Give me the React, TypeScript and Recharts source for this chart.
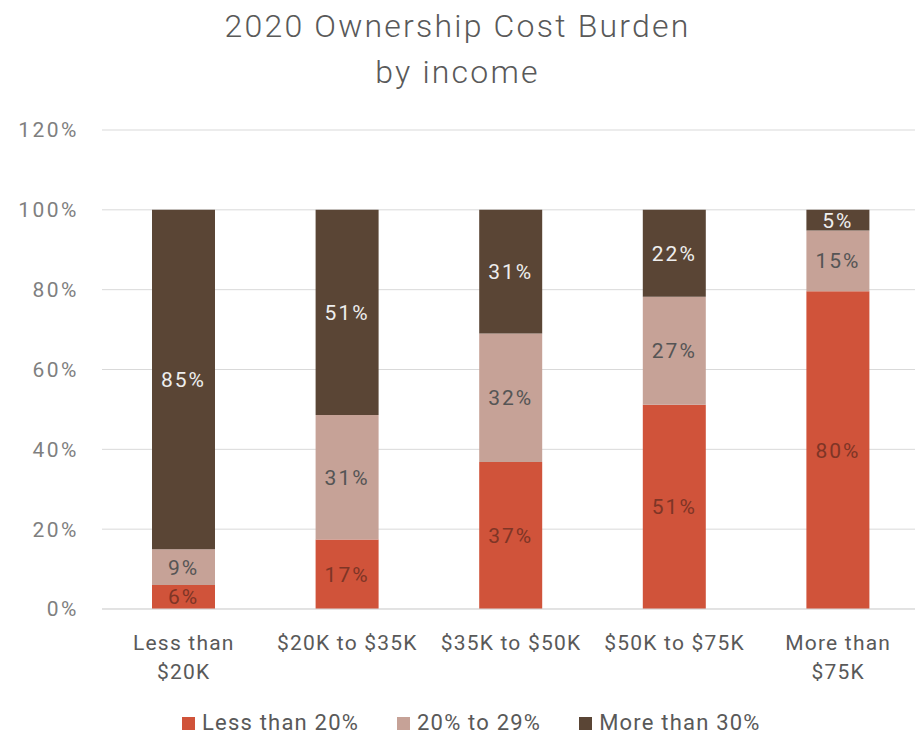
import React from 'react';
import { BarChart, Bar, XAxis, YAxis, CartesianGrid, LabelList, Legend } from 'recharts';

const categories = ['Less than\n$20K', '$20K to $35K', '$35K to $50K', '$50K to $75K', 'More than\n$75K'];
const lessThan20 = [6, 17.4, 36.8, 51.2, 79.6];
const from20to29 = [9, 31.2, 32.2, 27, 15.2];
const moreThan30 = [85, 51.4, 31, 21.8, 5.2];
const yTicks = [0, 20, 40, 60, 80, 100, 120];

const seriesNames = ['Less than 20%', '20% to 29%', 'More than 30%'];
const colors = ['#D0533A', '#C6A297', '#5A4535'];
const labelColors = ['#7E3526', '#555555', '#EEEEEE'];

const data = categories.map((c, i) => ({
  name: c,
  a: lessThan20[i],
  b: from20to29[i],
  c: moreThan30[i],
}));

const FONT = 'Roboto, "Open Sans", sans-serif';

const XTick = (props: any) => {
  const { x, y, payload } = props;
  const lines = String(payload.value).split('\n');
  return (
    <text x={x} y={y + 33} textAnchor="middle" fill="#595959" fontSize={21} letterSpacing={1.2} fontFamily={FONT}>
      {lines.map((l, i) => (
        <tspan key={i} x={x} dy={i === 0 ? 0 : 29}>
          {l}
        </tspan>
      ))}
    </text>
  );
};

const LegendContent = (props: any) => {
  const payload = [...(props.payload || [])].sort(
    (p: any, q: any) => seriesNames.indexOf(p.value) - seriesNames.indexOf(q.value)
  );
  return (
    <div style={{ display: 'flex', fontFamily: FONT, fontSize: 22, letterSpacing: 1.2, lineHeight: '24px', height: 24, color: '#595959' }}>
      {payload.map((p: any, i: number) => (
        <div key={i} style={{ display: 'flex', alignItems: 'center', marginRight: 38 }}>
          <span style={{ display: 'inline-block', width: 13, height: 13, background: p.color, marginRight: 7 }} />
          <span>{p.value}</span>
        </div>
      ))}
    </div>
  );
};

const fmt = (v: any) => `${Math.round(Number(v))}%`;

export default function App() {
  return (
    <div style={{ position: 'absolute', left: 0, top: 0, width: 915, height: 737, overflow: 'hidden', background: '#fff' }}>
      <div
        style={{
          position: 'absolute',
          top: 3,
          left: 0,
          width: 915,
          textAlign: 'center',
          fontFamily: FONT,
          fontWeight: 300,
          fontSize: 32,
          letterSpacing: 2.2,
          lineHeight: '46px',
          color: '#595959',
        }}
      >
        2020 Ownership Cost Burden
        <br />
        by income
      </div>
      <div style={{ position: 'absolute', left: 0, top: 0 }}>
        <BarChart width={930} height={737} data={data} margin={{ top: 130, right: 10, bottom: 44, left: 0 }} barSize={63}>
          <CartesianGrid vertical={false} stroke="#D9D9D9" />
          <XAxis dataKey="name" axisLine={{ stroke: '#D9D9D9' }} tickLine={false} tick={<XTick />} height={60} interval={0} />
          <YAxis
            domain={[0, 120]}
            ticks={yTicks}
            tickFormatter={(v) => `${v}%`}
            axisLine={false}
            tickLine={false}
            width={102}
            tickMargin={17}
            tick={{ fill: '#7F7F7F', fontSize: 21, fontFamily: FONT, letterSpacing: 2.5 }}
          />
          <Legend content={<LegendContent />} wrapperStyle={{ left: 182, top: 711, width: 700, height: 24 }} />
          <Bar dataKey="a" name={seriesNames[0]} stackId="s" fill={colors[0]} isAnimationActive={false}>
            <LabelList dataKey="a" position="center" formatter={fmt} fill={labelColors[0]} fontSize={21} letterSpacing={2} fontFamily={FONT} />
          </Bar>
          <Bar dataKey="b" name={seriesNames[1]} stackId="s" fill={colors[1]} isAnimationActive={false}>
            <LabelList dataKey="b" position="center" formatter={fmt} fill={labelColors[1]} fontSize={21} letterSpacing={2} fontFamily={FONT} />
          </Bar>
          <Bar dataKey="c" name={seriesNames[2]} stackId="s" fill={colors[2]} isAnimationActive={false}>
            <LabelList dataKey="c" position="center" formatter={fmt} fill={labelColors[2]} fontSize={21} letterSpacing={2} fontFamily={FONT} />
          </Bar>
        </BarChart>
      </div>
    </div>
  );
}
